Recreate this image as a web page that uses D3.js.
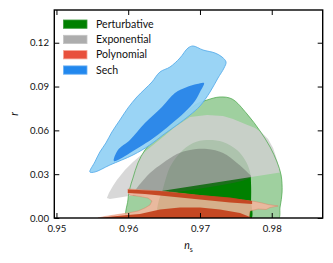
<!DOCTYPE html>
<html>
<head>
<meta charset="utf-8">
<script src="https://cdn.jsdelivr.net/npm/d3@7"></script>
<style>
body { margin: 0; background: #fff; }
svg { display: block; }
.tick text { font-family: Lato, "DejaVu Sans", sans-serif; font-size: 9.6px; fill: #111; }
</style>
</head>
<body>
<svg id="chart" width="333" height="263"></svg>
<script>
var nsTicks = [0.95, 0.96, 0.97, 0.98];
var rTicks = [0.00, 0.03, 0.06, 0.09, 0.12];
var modelNames = ["Perturbative", "Exponential", "Polynomial", "Sech"];

// contours as [n_s, r] pairs
var perturbativeOuter = [
    [0.95996, -0.002], [0.95996, 0.01232], [0.96024, 0.02054], [0.96066, 0.02738], [0.96135, 0.03765],
    [0.96233, 0.04655], [0.96372, 0.05477], [0.96512, 0.06161], [0.96651, 0.06709], [0.96819, 0.07257],
    [0.9693, 0.07736], [0.97098, 0.08078], [0.97279, 0.08284], [0.97447, 0.08147], [0.97656, 0.0712],
    [0.97837, 0.05956], [0.97977, 0.04861], [0.98074, 0.03834], [0.9813, 0.02944], [0.98144, 0.0178],
    [0.98116, 0.00753], [0.98074, -0.002]
];
var perturbativeInner = [
    [0.96386, -0.002], [0.964, 0.00548], [0.96428, 0.01232], [0.9647, 0.0178], [0.96526, 0.02738],
    [0.96582, 0.03491], [0.96721, 0.0445], [0.96903, 0.05135], [0.97098, 0.0534], [0.97321, 0.05203],
    [0.97516, 0.04655], [0.97628, 0.03971], [0.97698, 0.03149], [0.97712, 0.02259], [0.97712, 0.01232],
    [0.97698, -0.002]
];
var exponentialOuter = [
    [0.95703, 0.01369], [0.95731, 0.01712], [0.95787, 0.02191], [0.95842, 0.02601], [0.95954, 0.03286],
    [0.96066, 0.03834], [0.96261, 0.04655], [0.96484, 0.05545], [0.96651, 0.0623], [0.96861, 0.06914],
    [0.97098, 0.07051], [0.97321, 0.06983], [0.97461, 0.06777], [0.97628, 0.06435], [0.97768, 0.06161],
    [0.97865, 0.05819], [0.97949, 0.05408], [0.98019, 0.04792], [0.98074, 0.03971], [0.98116, 0.03115],
    [0.95745, 0.01301]
];
var exponentialInner = [
    [0.96066, 0.01643], [0.96121, 0.02054], [0.96177, 0.02396], [0.96303, 0.03081], [0.96484, 0.03765],
    [0.96679, 0.04381], [0.96861, 0.04655], [0.97098, 0.04724], [0.97321, 0.0445], [0.97516, 0.03765],
    [0.9767, 0.03081], [0.97712, 0.02807], [0.96066, 0.01547]
];
var polynomialOuter = [
    [0.95996, 0.01985], [0.96233, 0.01917], [0.96582, 0.0178], [0.97, 0.0154], [0.97419, 0.01335],
    [0.97768, 0.0113], [0.97865, 0.01027], [0.97949, 0.00924], [0.98088, 0.00822], [0.97977, 0.00719],
    [0.97921, 0.00582], [0.97809, 0.00616], [0.97698, 0.00479], [0.97684, 0], [0.95577, 0],
    [0.95675, 0.00103], [0.95856, 0.0024], [0.95996, 0.00342], [0.96135, 0.00479], [0.96233, 0.00685],
    [0.96303, 0.0089], [0.96331, 0.01164], [0.96275, 0.01369], [0.96163, 0.01472], [0.96024, 0.01575],
    [0.95996, 0.01712]
];
var polynomialInnerTop = [
    [0.95996, 0.01951], [0.96442, 0.01848], [0.97, 0.01575], [0.97419, 0.01403], [0.97726, 0.01164],
    [0.97726, 0.00958], [0.97419, 0.01061], [0.97, 0.01267], [0.96582, 0.01472], [0.96233, 0.01643],
    [0.95996, 0.01712]
];
var polynomialInnerBottom = [
    [0.95605, 0], [0.95773, 0.00103], [0.95996, 0.00205], [0.96163, 0.00274], [0.96442, 0.00582],
    [0.96721, 0.00719], [0.97, 0.00719], [0.97279, 0.00582], [0.97558, 0.00342], [0.97698, 0.00068],
    [0.97726, 0]
];
var sechOuter = [
    [0.95466, 0.03149], [0.95535, 0.03834], [0.95605, 0.04518], [0.95689, 0.05135], [0.95773, 0.05888],
    [0.95884, 0.06709], [0.95996, 0.07531], [0.96121, 0.08284], [0.96233, 0.08831], [0.96331, 0.0931],
    [0.96442, 0.09995], [0.96582, 0.10337], [0.96721, 0.10954], [0.96833, 0.11638], [0.96903, 0.11775],
    [0.97042, 0.11501], [0.97209, 0.11296], [0.97307, 0.11022], [0.97363, 0.1068], [0.97335, 0.10269],
    [0.97251, 0.09584], [0.9714, 0.08626], [0.97, 0.07668], [0.96861, 0.07051], [0.96679, 0.06367],
    [0.96484, 0.05682], [0.96303, 0.04998], [0.96066, 0.04313], [0.95745, 0.03628], [0.95535, 0.03149]
];
var sechInner = [
    [0.95801, 0.03902], [0.95856, 0.04655], [0.96024, 0.0534], [0.96233, 0.06504], [0.9647, 0.07599],
    [0.96651, 0.08558], [0.96819, 0.08968], [0.96958, 0.09174], [0.97056, 0.09242], [0.97, 0.08626],
    [0.9693, 0.0801], [0.96791, 0.07257], [0.96582, 0.06367], [0.96372, 0.05545], [0.96205, 0.04998],
    [0.96024, 0.0445], [0.95884, 0.0404]
];

var margin = {top: 10, right: 10.3, bottom: 45, left: 54.3};
var width = 333 - margin.left - margin.right;
var height = 263 - margin.top - margin.bottom;

var svg = d3.select("#chart");
var g = svg.append("g")
    .attr("transform", "translate(" + margin.left + "," + margin.top + ")");

var x = d3.scaleLinear().domain([0.9497, 0.9871]).range([0, width]);
var y = d3.scaleLinear().domain([0, 0.1424]).range([height, 0]);

g.append("clipPath").attr("id", "plotclip")
    .append("rect").attr("width", width).attr("height", height);

var plot = g.append("g").attr("clip-path", "url(#plotclip)");

var smooth = d3.line()
    .x(function (d) { return x(d[0]); })
    .y(function (d) { return y(d[1]); })
    .curve(d3.curveCatmullRomClosed.alpha(0.5));
var rough = d3.line()
    .x(function (d) { return x(d[0]); })
    .y(function (d) { return y(d[1]); })
    .curve(d3.curveLinearClosed);

function area(pts, lineGen, fill, opacity) {
    return plot.append("path")
        .attr("d", lineGen(pts))
        .attr("fill", fill)
        .attr("fill-opacity", opacity)
        .attr("stroke", "none");
}

// Perturbative
area(perturbativeOuter, smooth, "#9fd09f", 1);
area(perturbativeInner, smooth, "#008000", 1);

// Exponential
area(exponentialOuter, rough, "#d0d0d0", 0.83);
area(exponentialInner, smooth, "#4f4f4f", 0.35);

plot.append("path")
    .attr("d", smooth(perturbativeOuter))
    .attr("fill", "none")
    .attr("stroke", "#4fa94f")
    .attr("stroke-opacity", 0.85)
    .attr("stroke-width", 0.9);

// Polynomial
area(polynomialOuter, rough, "#f4b59e", 0.88)
    .attr("stroke", "#e07a5c").attr("stroke-width", 0.6).attr("stroke-opacity", 0.7);
area(polynomialInnerTop, rough, "#c4421e", 0.95);
area(polynomialInnerBottom, rough, "#c4421e", 0.95);

// Sech
area(sechOuter, smooth, "#92d1f4", 0.93)
    .attr("stroke", "#5aaeea").attr("stroke-width", 0.9);
area(sechInner, smooth, "#2a86e8", 0.97);

// axes, ticks inward on all four sides
var fmt = d3.format(".2f");
g.append("g")
    .attr("transform", "translate(0," + height + ")")
    .call(d3.axisBottom(x).tickValues(nsTicks).tickFormat(fmt).tickSize(-5).tickSizeOuter(0).tickPadding(7));
g.append("g")
    .call(d3.axisLeft(y).tickValues(rTicks).tickFormat(fmt).tickSize(-5).tickSizeOuter(0).tickPadding(5.3));
g.append("g")
    .call(d3.axisTop(x).tickValues(nsTicks).tickFormat("").tickSize(-5).tickSizeOuter(0));
g.append("g")
    .attr("transform", "translate(" + width + ",0)")
    .call(d3.axisRight(y).tickValues(rTicks).tickFormat("").tickSize(-5).tickSizeOuter(0));

g.selectAll(".domain").remove();
g.selectAll(".tick line").attr("stroke", "#000").attr("stroke-width", 1);

g.append("rect")
    .attr("width", width)
    .attr("height", height)
    .attr("fill", "none")
    .attr("stroke", "#000")
    .attr("stroke-width", 1.4);

// axis labels
var xl = svg.append("text")
    .attr("x", margin.left + width / 2)
    .attr("y", 249)
    .attr("text-anchor", "middle")
    .style("font-family", "Lato, 'DejaVu Sans', sans-serif")
    .style("font-size", "10.5px")
    .style("fill", "#111");
xl.append("tspan").style("font-style", "italic").text("n");
xl.append("tspan").attr("dy", 2.5).style("font-size", "7px").text("s");

svg.append("text")
    .attr("transform", "translate(18," + (margin.top + height / 2) + ") rotate(-90)")
    .attr("text-anchor", "middle")
    .style("font-family", "Lato, 'DejaVu Sans', sans-serif")
    .style("font-size", "10.5px")
    .style("font-style", "italic")
    .style("fill", "#111")
    .text("r");

// legend
var legendFill = ["#008000", "#adadad", "#e8503c", "#2288ee"];
var legendEdge = ["#3a9a3a", "#c4c4c4", "#f4a292", "#6ab0f2"];
var legend = svg.append("g");
modelNames.forEach(function (name, i) {
    var yy = 20 + i * 15.3;
    legend.append("rect")
        .attr("x", 63.5).attr("y", yy)
        .attr("width", 23.5).attr("height", 8.3)
        .attr("fill", legendFill[i])
        .attr("stroke", legendEdge[i])
        .attr("stroke-width", 0.8);
    legend.append("text")
        .attr("x", 96)
        .attr("y", yy + 7.8)
        .style("font-family", "Lato, 'DejaVu Sans', sans-serif")
        .style("font-size", "10.6px")
        .style("fill", "#111")
        .text(name);
});
</script>
</body>
</html>
